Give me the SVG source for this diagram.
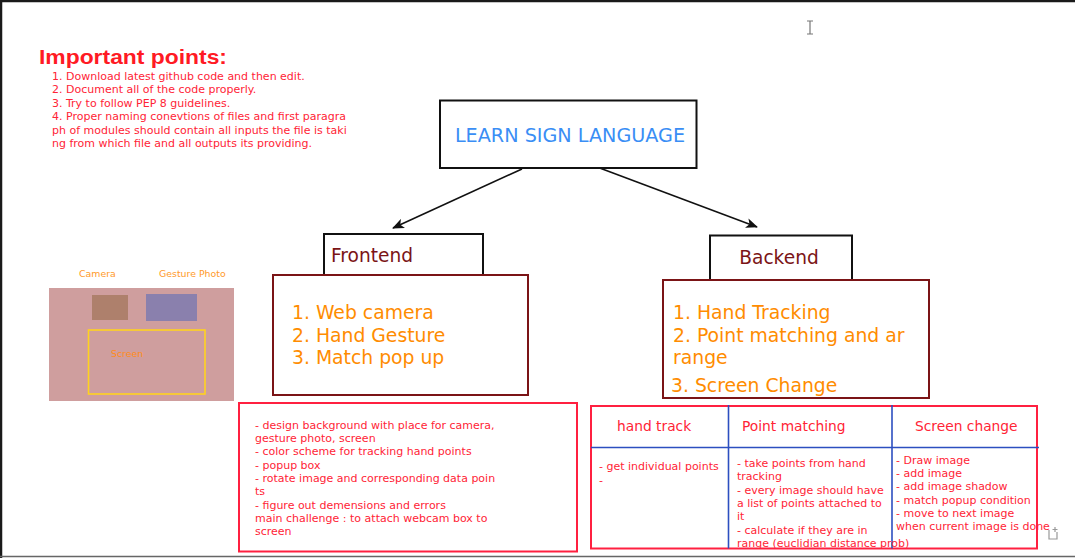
<svg xmlns="http://www.w3.org/2000/svg" width="1075" height="558" viewBox="0 0 1075 558">
<style>
.note{font-family:"DejaVu Sans",Verdana,sans-serif;font-size:11px;fill:#ff2436}
.list{font-family:"DejaVu Sans",Verdana,sans-serif;font-size:18.8px;fill:#ff8c00}
.head{font-family:"DejaVu Sans",Verdana,sans-serif;font-size:18.6px;fill:#7b1416}
.th{font-family:"DejaVu Sans",Verdana,sans-serif;font-size:13.8px;fill:#ff2436}
.td{font-family:"DejaVu Sans",Verdana,sans-serif;font-size:11px;fill:#ff2436}
.small{font-family:"DejaVu Sans",Verdana,sans-serif;font-size:9.4px;fill:#ff9a2a}
.blk{fill:#fff;stroke:#111;stroke-width:2}
.dr{fill:#fff;stroke:#7b1416;stroke-width:2}
.red{fill:#fff;stroke:#ff2040;stroke-width:2}
.blue{stroke:#2c4fc0;stroke-width:1.6;fill:none}
</style>
<defs>
<marker id="arr" viewBox="0 0 12 10" refX="11" refY="5" markerWidth="12" markerHeight="10" markerUnits="userSpaceOnUse" orient="auto">
<path d="M0,0 L12,5 L0,10 L3,5 Z" fill="#111"/>
</marker>
</defs>
<rect x="0" y="0" width="1075" height="558" fill="#fff"/>
<g id="frame">
<line x1="0" y1="1" x2="1075" y2="1" stroke="#1a1a1a" stroke-width="2.5"/>
<line x1="1" y1="0" x2="1" y2="558" stroke="#1a1a1a" stroke-width="2.5"/>
<line x1="0" y1="556.5" x2="1075" y2="556.5" stroke="#666" stroke-width="1.5"/>
</g>
<g id="important-points">
<text x="39" y="64" textLength="188" lengthAdjust="spacingAndGlyphs" style="font-family:'Liberation Sans',Arial,sans-serif;font-size:20.5px;font-weight:bold;fill:#ff1a24">Important points:</text>
<text class="note" x="52" y="80">1. Download latest github code and then edit.</text>
<text class="note" x="52" y="93">2. Document all of the code properly.</text>
<text class="note" x="52" y="107">3. Try to  follow PEP 8 guidelines.</text>
<text class="note" x="52" y="120">4. Proper naming conevtions of files and first paragra</text>
<text class="note" x="52" y="134">ph of modules should contain all inputs the file is taki</text>
<text class="note" x="52" y="147">ng from which file and all outputs its providing.</text>
</g>
<g id="connectors">
<line x1="522" y1="169" x2="393" y2="228" stroke="#111" stroke-width="1.6" marker-end="url(#arr)"/>
<line x1="597" y1="167" x2="757" y2="227" stroke="#111" stroke-width="1.6" marker-end="url(#arr)"/>
</g>
<g id="learn-sign-language">
<rect class="blk" x="440" y="100.5" width="256.5" height="67.5"/>
<text x="570" y="142" text-anchor="middle" style="font-family:'DejaVu Sans',Verdana,sans-serif;font-size:19.2px;fill:#3a8ef5">LEARN SIGN LANGUAGE</text>
</g>
<g id="frontend">
<rect class="blk" x="324" y="234" width="159" height="45"/>
<text class="head" x="331" y="262">Frontend</text>
</g>
<g id="frontend-list">
<rect class="dr" x="273" y="275" width="255" height="120"/>
<text class="list" x="292" y="319">1. Web camera</text>
<text class="list" x="292" y="342">2. Hand Gesture</text>
<text class="list" x="292" y="364">3. Match pop up</text>
</g>
<g id="backend">
<rect class="blk" x="710" y="235.5" width="142" height="44.5"/>
<text class="head" x="779" y="264" text-anchor="middle">Backend</text>
</g>
<g id="backend-list">
<rect class="dr" x="663" y="280" width="266" height="118"/>
<text class="list" x="673" y="319">1. Hand Tracking</text>
<text class="list" x="673" y="342">2. Point matching and ar</text>
<text class="list" x="673" y="364">range</text>
<text class="list" x="671" y="392">3. Screen Change</text>
</g>
<g id="screen-mockup">
<text class="small" x="79" y="277">Camera</text>
<text class="small" x="159" y="277">Gesture Photo</text>
<rect x="49" y="288" width="185" height="113" fill="#cf9e9e"/>
<rect x="92" y="295" width="36" height="25" fill="#ae806c"/>
<rect x="146" y="294" width="51" height="27" fill="#8a80ad"/>
<rect x="88.5" y="330" width="116.5" height="64" fill="none" stroke="#ffd21f" stroke-width="1.6"/>
<text class="small" x="111" y="357" style="fill:#ff8c1a">Screen</text>
</g>
<g id="frontend-details">
<rect class="red" x="239" y="403" width="338" height="148.5"/>
<text class="note" x="255" y="429">- design background with place for camera,</text>
<text class="note" x="255" y="442">gesture photo, screen</text>
<text class="note" x="255" y="455">- color scheme for tracking hand points</text>
<text class="note" x="255" y="469">- popup box</text>
<text class="note" x="255" y="482">- rotate image and corresponding data poin</text>
<text class="note" x="255" y="495">ts</text>
<text class="note" x="255" y="509">- figure out demensions and errors</text>
<text class="note" x="255" y="522">main challenge : to attach webcam box to</text>
<text class="note" x="255" y="535">screen</text>
</g>
<g id="backend-table">
<rect class="red" x="591" y="406" width="446" height="142.5"/>
<line class="blue" x1="728.5" y1="405" x2="728.5" y2="548.5"/>
<line class="blue" x1="892" y1="405" x2="892" y2="548.5"/>
<line class="blue" x1="591" y1="447.5" x2="1039" y2="447.5"/>
<text class="th" x="617" y="431">hand track</text>
<text class="th" x="742" y="431">Point matching</text>
<text class="th" x="915" y="431">Screen change</text>
<text class="td" x="599" y="470">- get individual points</text>
<text class="td" x="599" y="484">-</text>
<text class="td" x="737" y="467">- take points from hand</text>
<text class="td" x="737" y="480">tracking</text>
<text class="td" x="737" y="494">- every image should have</text>
<text class="td" x="737" y="507">a list of points attached to</text>
<text class="td" x="737" y="520">it</text>
<text class="td" x="737" y="534">- calculate if they are in</text>
<text class="td" x="737" y="547">range (euclidian distance prob)</text>
<text class="td" x="896" y="464">- Draw image</text>
<text class="td" x="896" y="477">- add image</text>
<text class="td" x="896" y="490">- add image shadow</text>
<text class="td" x="896" y="504">- match popup condition</text>
<text class="td" x="896" y="517">- move to next image</text>
<text class="td" x="896" y="530">when current image is done</text>
</g>
<g id="ui-artifacts" fill="none" stroke="#777" stroke-width="1.2">
<path d="M807,21 H813 M810,21 V34 M807,34 H813"/>
<path d="M1049,530 V539 H1057 V532 M1055,527 V532 M1052.5,529.5 H1057.5" stroke="#999"/>
</g>
</svg>
